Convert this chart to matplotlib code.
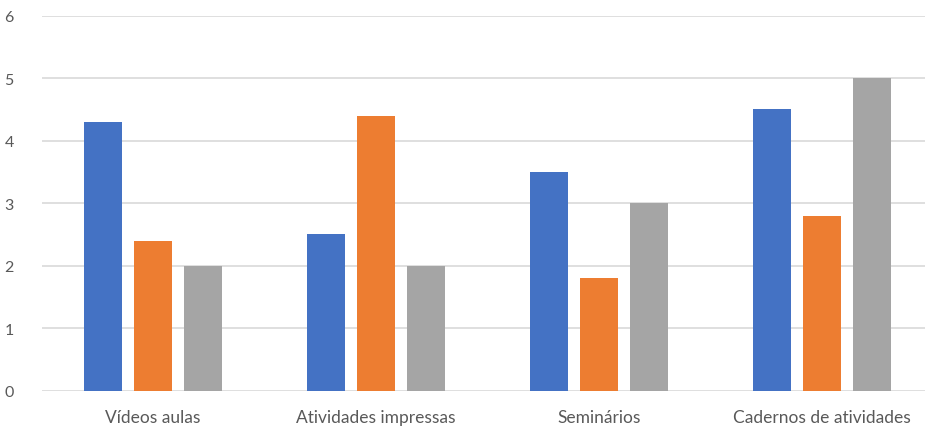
import numpy as np
import matplotlib
matplotlib.use('Agg')
import matplotlib.pyplot as plt

# dados do gráfico
categorias = ['Vídeos aulas', 'Atividades impressas', 'Seminários', 'Cadernos de atividades']
serie1 = [4.3, 2.5, 3.5, 4.5]
serie2 = [2.4, 4.4, 1.8, 2.8]
serie3 = [2, 2, 3, 5]
cores = ['#4472C4', '#ED7D31', '#A5A5A5']

plt.rcParams['font.family'] = ['Lato', 'DejaVu Sans']

fig = plt.figure(figsize=(9.25, 4.27), dpi=100)
ax = fig.add_axes([41.5 / 925, 35.3 / 427, 883.5 / 925, 375 / 427])

x = np.arange(len(categorias))
largura = 0.17
passo = 0.223
for k, (vals, cor) in enumerate(zip([serie1, serie2, serie3], cores)):
    ax.bar(x + (k - 1) * passo, vals, largura, color=cor, zorder=3)

ax.set_ylim(0, 6)
ax.set_xlim(-0.5, 3.462)
ax.set_yticks(range(7))
ax.set_xticks(x)
ax.set_xticklabels(categorias)
ax.grid(axis='y', color='#D9D9D9', linewidth=1.2, zorder=0)
for s in ax.spines.values():
    s.set_visible(False)
ax.tick_params(length=0, colors='#595959')
ax.tick_params(axis='y', pad=20, labelsize=11.5)
ax.tick_params(axis='x', pad=13, labelsize=12.5)

fig.savefig('out.png', dpi=100)
